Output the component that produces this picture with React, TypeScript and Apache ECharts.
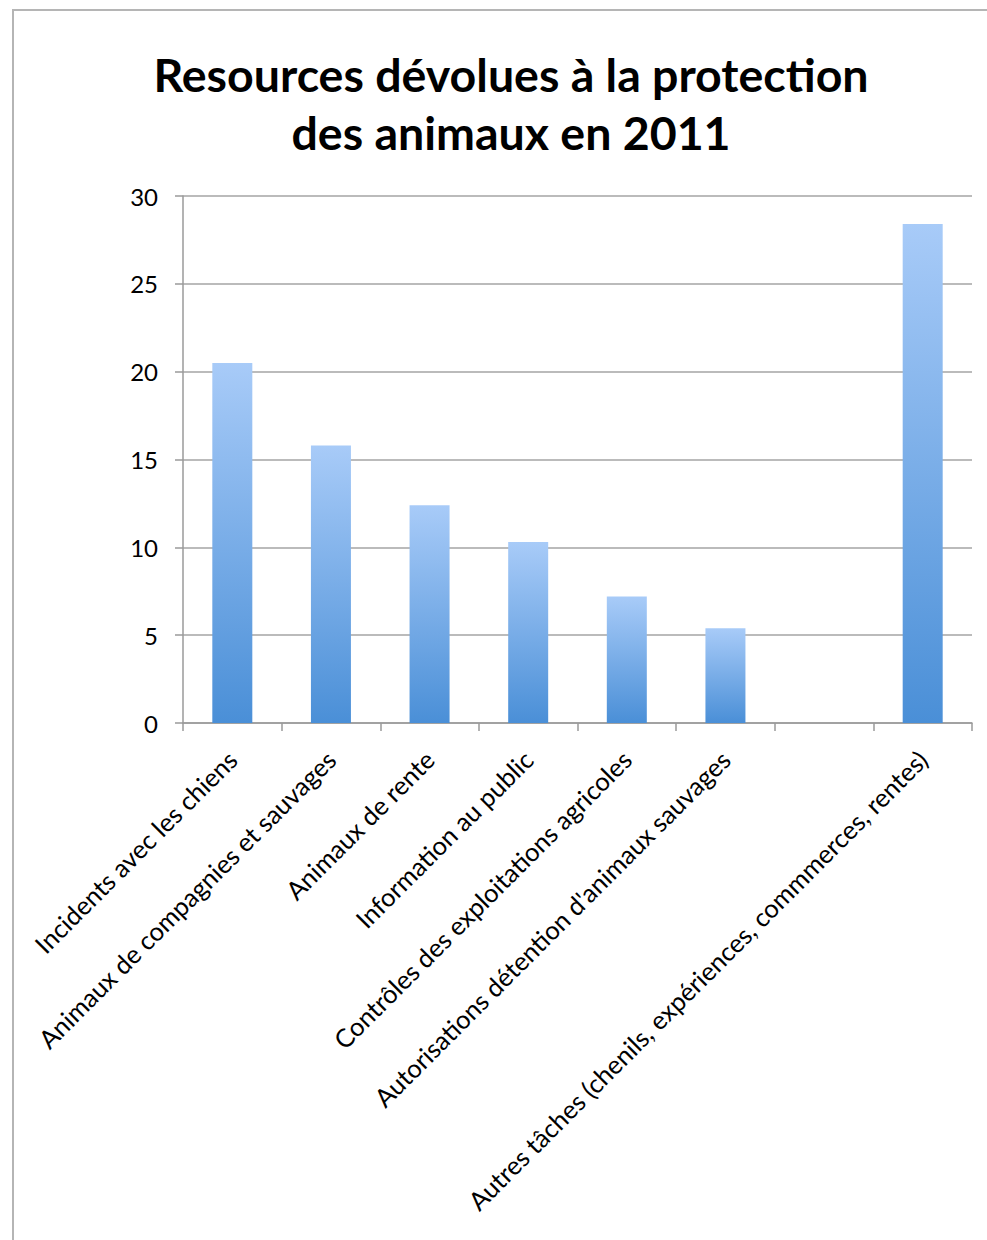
import React, { useEffect, useRef } from "react";
import * as echarts from "echarts";

const titleLines = ["Resources dévolues à la protection", "des animaux en 2011"];
const categories = [
  "Incidents avec les chiens",
  "Animaux de compagnies et sauvages",
  "Animaux de rente",
  "Information au public",
  "Contrôles des exploitations agricoles",
  "Autorisations détention d'animaux sauvages",
  "",
  "Autres tâches (chenils, expériences, commmerces, rentes)",
];
const values: (number | null)[] = [20.5, 15.8, 12.4, 10.3, 7.2, 5.4, null, 28.4];
const yTicks = { min: 0, max: 30, interval: 5 };

export default function App() {
  const ref = useRef<HTMLDivElement>(null);
  useEffect(() => {
    if (!ref.current) return;
    const chart = echarts.init(ref.current, undefined, { renderer: "svg" });
    const font = "Lato, 'Open Sans', sans-serif";
    chart.setOption({
      animation: false,
      backgroundColor: "#ffffff",
      title: {
        text: titleLines.join("\n"),
        left: 506,
        top: 40,
        textAlign: "center",
        textStyle: {
          fontFamily: font,
          fontWeight: "bold",
          fontSize: 46.5,
          lineHeight: 58,
          color: "#000",
        },
      },
      graphic: [
        {
          type: "rect",
          shape: { x: 13, y: 10, width: 1000, height: 1260 },
          style: { fill: "none", stroke: "#b5b5b5", lineWidth: 2 },
          silent: true,
        },
      ],
      grid: { left: 183, right: 15, top: 196, bottom: 517, containLabel: false },
      xAxis: {
        type: "category",
        data: categories,
        boundaryGap: true,
        axisLine: { show: true, lineStyle: { color: "#9a9a9a", width: 1.5 } },
        axisTick: { show: true, length: 8, alignWithLabel: false, lineStyle: { color: "#9a9a9a", width: 1.5 } },
        axisLabel: {
          interval: 0,
          rotate: 45,
          margin: 32,
          fontFamily: font,
          fontSize: 25.5,
          color: "#000",
        },
      },
      yAxis: {
        type: "value",
        min: yTicks.min,
        max: yTicks.max,
        interval: yTicks.interval,
        axisLine: { show: true, lineStyle: { color: "#9a9a9a", width: 1.5 } },
        axisTick: { show: true, length: 8, lineStyle: { color: "#9a9a9a", width: 1.5 } },
        splitLine: { show: true, lineStyle: { color: "#a5a5a5", width: 1.5 } },
        axisLabel: { margin: 25, fontFamily: font, fontSize: 24, color: "#000" },
      },
      series: [
        {
          type: "bar",
          data: values.map((v) => (v === null ? "-" : v)),
          barWidth: 40,
          itemStyle: {
            color: new echarts.graphic.LinearGradient(0, 0, 0, 1, [
              { offset: 0, color: "#a8cbf8" },
              { offset: 1, color: "#4a8fd7" },
            ]),
          },
        },
      ],
    });
    return () => chart.dispose();
  }, []);
  return (
    <div
      ref={ref}
      style={{ position: "fixed", left: 0, top: 0, width: 987, height: 1240 }}
    />
  );
}
